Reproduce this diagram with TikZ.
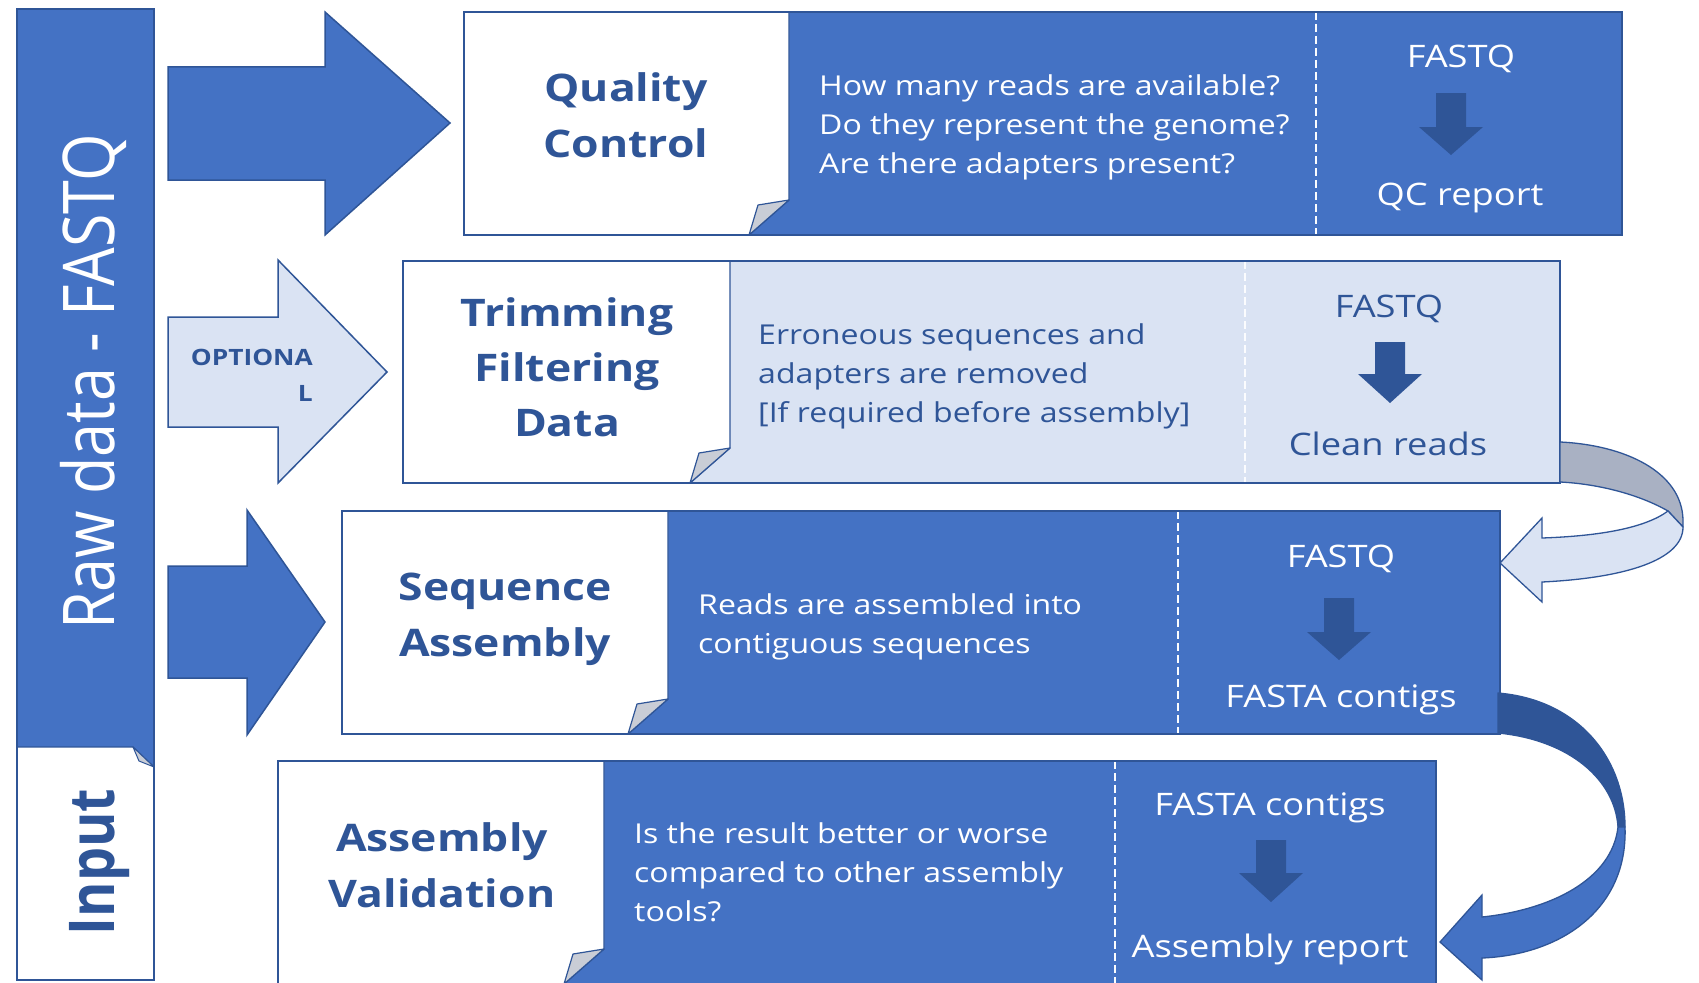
\documentclass[tikz,border=0pt]{standalone}
\usepackage{fontspec}
\setmainfont{Open Sans}
\usepackage{graphicx}
\definecolor{mblue}{HTML}{4472C4}
\definecolor{dblue}{HTML}{2F5597}
\definecolor{lblue}{HTML}{DAE3F3}
\definecolor{foldgray}{HTML}{C9CDD6}
\definecolor{backgray}{HTML}{A9B1C3}
\newcommand{\hs}[1]{\scalebox{1.17}[1]{#1}}
\newcommand{\vs}[1]{\scalebox{1}[1.17]{#1}}
% L T R B W D fill
\newcommand{\steprow}[7]{%
  \fill[#7] (#1,#2) rectangle (#3,#4);
  \fill[white] (#1,#2) -- (#5,#2) -- (#5,#4-35) -- (#5-40,#4) -- (#1,#4) -- cycle;
  \draw[white!90!lblue, line width=1.8pt, dash pattern=on 8pt off 4pt] (#6,#2) -- (#6,#4);
  \draw[dblue, line width=1.3pt] (#5,#2) -- (#5,#4-35) -- (#5-40,#4);
  \filldraw[fill=foldgray, draw=dblue, line width=1.2pt, line join=round] (#5-40,#4) -- (#5-31,#4-30) -- (#5,#4-35) -- cycle;
  \draw[dblue, line width=1.5pt] (#1,#2) rectangle (#3,#4);
}
\newcommand{\dnarrow}[4]{%
  \fill[dblue] (#1-15,#2) -- (#1+15,#2) -- (#1+15,#3) -- (#1+32,#3) -- (#1,#4) -- (#1-32,#3) -- (#1-15,#3) -- cycle;
}
\begin{document}
\begin{tikzpicture}[x=1pt,y=-1pt,
  titletxt/.style={font=\fontsize{38}{56}\bfseries\selectfont, text=dblue, inner sep=0pt, anchor=base},
  bodytxt/.style={font=\fontsize{27.4}{39}\selectfont, inner sep=0pt, anchor=base west},
  labtxt/.style={font=\fontsize{31}{40}\selectfont, inner sep=0pt, anchor=base},
  blockarrow/.style={draw=dblue, line width=1.5pt, line join=miter}]
\useasboundingbox (0,0) rectangle (1699,982);
\clip (0,0) rectangle (1699,982);
\fill[white] (0,0) rectangle (1699,982);

% left bar
\fill[mblue] (17,9) rectangle (154,767);
\fill[white] (17,747) -- (133,747) -- (154,767) -- (154,980) -- (17,980) -- cycle;
\draw[dblue, line width=1.3pt] (17,747) -- (133,747) -- (154,767);
\filldraw[fill=foldgray, draw=dblue, line width=1pt, line join=round] (133,747) -- (139,761) -- (154,767) -- cycle;
\draw[dblue, line width=1.5pt] (17,9) rectangle (154,980);
\node[rotate=90, anchor=base, inner sep=0pt, text=white, font=\fontsize{61}{64}\selectfont] (raw) at (114,382) {\vs{Raw data - FASTQ}};
\node[rotate=90, anchor=base, inner sep=0pt, text=dblue, font=\fontsize{54}{60}\bfseries\selectfont] (inp) at (114,862) {\vs{Input}};

% block arrows on the left
\filldraw[blockarrow, fill=mblue] (168,67) -- (325,67) -- (325,12) -- (450,123) -- (325,235) -- (325,180) -- (168,180) -- cycle;
\filldraw[blockarrow, fill=lblue] (168,317) -- (278,317) -- (278,260) -- (387,372) -- (278,483) -- (278,427) -- (168,427) -- cycle;
\filldraw[blockarrow, fill=mblue] (168,566) -- (247,566) -- (247,510) -- (325,622) -- (247,735) -- (247,678) -- (168,678) -- cycle;
\node[anchor=base east, inner sep=0pt, text=dblue, font=\fontsize{22.5}{30}\bfseries\selectfont] (opt1) at (313,365) {\hs{OPTIONA}};
\node[anchor=base east, inner sep=0pt, text=dblue, font=\fontsize{22.5}{30}\bfseries\selectfont] (opt2) at (313,401) {\hs{L}};

% rows
\steprow{464}{12}{1622}{235}{789}{1316}{mblue}
\steprow{403}{261}{1560}{483}{730}{1245}{lblue}
\steprow{342}{511}{1500}{734}{668}{1178}{mblue}
\steprow{278}{761}{1436}{984}{604}{1115}{mblue}

% row 1
\node[titletxt] (t1a) at (626,101) {\hs{Quality}};
\node[titletxt] (t1b) at (626,157) {\hs{Control}};
\node[bodytxt, text=white] (b1a) at (819,95) {\hs{How many reads are available?}};
\node[bodytxt, text=white] (b1b) at (819,134) {\hs{Do they represent the genome?}};
\node[bodytxt, text=white] (b1c) at (819,173) {\hs{Are there adapters present?}};
\node[labtxt, text=white] (l1a) at (1461,67) {\hs{FASTQ}};
\dnarrow{1451}{93}{127}{155}
\node[labtxt, text=white] (l1b) at (1460,205) {\hs{QC report}};

% row 2
\node[titletxt] (t2a) at (567,326) {\hs{Trimming}};
\node[titletxt] (t2b) at (567,381) {\hs{Filtering}};
\node[titletxt] (t2c) at (567,436) {\hs{Data}};
\node[bodytxt, text=dblue] (b2a) at (758,344) {\hs{Erroneous sequences and}};
\node[bodytxt, text=dblue] (b2b) at (758,383) {\hs{adapters are removed}};
\node[bodytxt, text=dblue] (b2c) at (758,422) {\hs{[If required before assembly]}};
\node[labtxt, text=dblue] (l2a) at (1389,317) {\hs{FASTQ}};
\dnarrow{1390}{342}{374}{403}
\node[labtxt, text=dblue] (l2b) at (1388,455) {\hs{Clean reads}};

% row 3
\node[titletxt] (t3a) at (505,600) {\hs{Sequence}};
\node[titletxt] (t3b) at (505,656) {\hs{Assembly}};
\node[bodytxt, text=white] (b3a) at (698,614) {\hs{Reads are assembled into}};
\node[bodytxt, text=white] (b3b) at (698,653) {\hs{contiguous sequences}};
\node[labtxt, text=white] (l3a) at (1341,567) {\hs{FASTQ}};
\dnarrow{1339}{598}{632}{660}
\node[labtxt, text=white] (l3b) at (1341,707) {\hs{FASTA contigs}};

% row 4
\node[titletxt] (t4a) at (442,851) {\hs{Assembly}};
\node[titletxt] (t4b) at (442,907) {\hs{Validation}};
\node[bodytxt, text=white] (b4a) at (634,843) {\hs{Is the result better or worse}};
\node[bodytxt, text=white] (b4b) at (634,882) {\hs{compared to other assembly}};
\node[bodytxt, text=white] (b4c) at (634,921) {\hs{tools?}};
\node[labtxt, text=white] (l4a) at (1270,815) {\hs{FASTA contigs}};
\dnarrow{1271}{840}{873}{902}
\node[labtxt, text=white] (l4b) at (1270,957) {\hs{Assembly report}};

% curved arrow row 2 -> row 3
\filldraw[fill=backgray, draw=dblue, line width=1.3pt, line join=round]
  (1560,442) .. controls (1625,445) and (1682,472) .. (1683,520) -- (1683,527) -- (1668,511)
  .. controls (1640,495) and (1600,484) .. (1560,482) -- cycle;
\filldraw[fill=lblue, draw=dblue, line width=1.3pt, line join=miter]
  (1668,511) -- (1683,527) .. controls (1683,560) and (1625,578) .. (1542,582)
  -- (1542,602) -- (1500,563) -- (1542,518) -- (1542,538)
  .. controls (1600,536) and (1645,528) .. (1668,511) -- cycle;

% curved arrow row 3 -> row 4
\filldraw[fill=dblue, draw=dblue, line width=1.3pt, line join=round]
  (1498,693) .. controls (1580,700) and (1625,760) .. (1625,827) -- (1618,827)
  .. controls (1615,780) and (1570,740) .. (1498,733) -- cycle;
\filldraw[fill=mblue, draw=dblue, line width=1.3pt, line join=miter]
  (1618,827) -- (1625,827) .. controls (1628,910) and (1560,955) .. (1482,958)
  -- (1482,980) -- (1440,942) -- (1482,895) -- (1482,917)
  .. controls (1550,910) and (1612,880) .. (1618,827) -- cycle;
\end{tikzpicture}
\end{document}
